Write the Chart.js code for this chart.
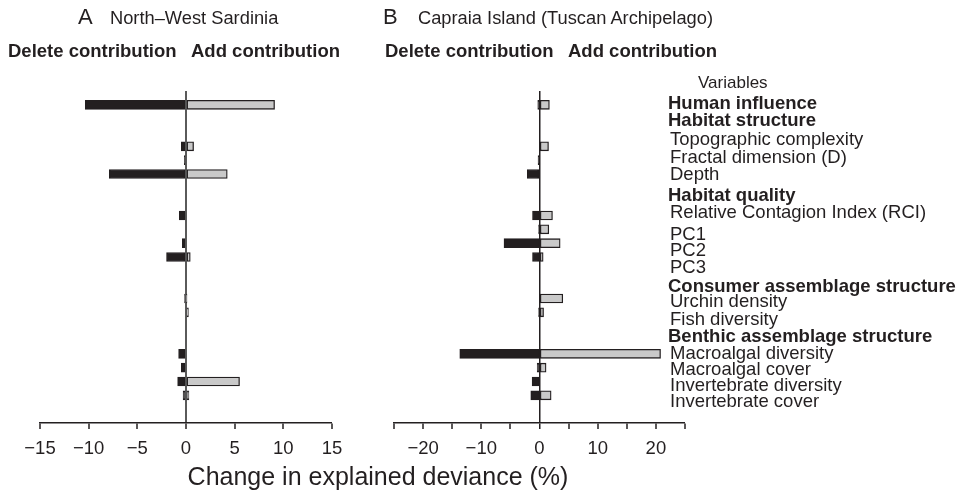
<!DOCTYPE html>
<html>
<head>
<meta charset="utf-8">
<script src="https://cdn.jsdelivr.net/npm/chart.js@4.4.0/dist/chart.umd.min.js"></script>
<style>
  body { margin: 0; width: 960px; height: 491px; background: #fff; position: relative; overflow: hidden;
         font-family: "Liberation Sans", Arial, Helvetica, sans-serif; color: #231f20; }
  .t { position: absolute; white-space: nowrap; line-height: 1; transform: translateY(-50%); }
  .b { font-weight: bold; }
  canvas { position: absolute; top: 0; }
</style>
</head>
<body>
<canvas id="chartA" width="360" height="491" style="left:0"></canvas>
<canvas id="chartB" width="340" height="491" style="left:360px"></canvas>
<div id="labels"></div>
<script>
// rows of the plot, top to bottom ("" = header row without a bar)
const rows = ["Human influence", "", "", "Topographic complexity", "Fractal dimension (D)", "Depth",
  "", "", "Relative Contagion Index (RCI)", "PC1", "PC2", "PC3", "", "",
  "Urchin density", "Fish diversity", "", "", "Macroalgal diversity", "Macroalgal cover",
  "Invertebrate diversity", "Invertebrate cover"];

// A  North-West Sardinia
const sardDelete = [-10.35, null, null, -0.48, -0.17, -7.88, null, null, -0.69, null, -0.38, -2.0,
  null, null, -0.15, null, null, null, -0.76, -0.48, -0.86, -0.3];
const sardAdd = [9.1, null, null, 0.78, null, 4.24, null, null, null, null, null, 0.44,
  null, null, 0.05, 0.25, null, null, null, null, 5.5, 0.3];

// B  Capraia Island
const capDelete = [-0.3, null, null, null, -0.25, -2.1, null, null, -1.2, -0.15, -6.1, -1.2,
  null, null, null, -0.15, null, null, -13.7, -0.4, -1.27, -1.5];
const capAdd = [1.7, null, null, 1.55, null, null, null, null, 2.23, 1.6, 3.55, 0.63,
  null, null, 4.0, 0.7, null, null, 20.8, 1.13, null, 2.0];

// variable list on the right
const varLabels = [
  ["Human influence", true], ["Habitat structure", true], ["Topographic complexity", false],
  ["Fractal dimension (D)", false], ["Depth", false], ["Habitat quality", true],
  ["Relative Contagion Index (RCI)", false], ["PC1", false], ["PC2", false], ["PC3", false],
  ["Consumer assemblage structure", true], ["Urchin density", false], ["Fish diversity", false],
  ["Benthic assemblage structure", true], ["Macroalgal diversity", false], ["Macroalgal cover", false],
  ["Invertebrate diversity", false], ["Invertebrate cover", false]
];
const labelY = [103, 120, 139, 157, 174, 195, 212, 234, 250, 267, 286, 301, 319, 336, 353, 369, 385, 401];

const ink = "#231f20";
const FONT = "'Liberation Sans', Arial, Helvetica, sans-serif";

function addText(txt, x, y, size, bold, extra) {
  const d = document.createElement("div");
  d.className = "t" + (bold ? " b" : "");
  d.textContent = txt;
  d.style.left = x + "px";
  d.style.top = y + "px";
  d.style.fontSize = size + "px";
  if (extra) Object.assign(d.style, extra);
  document.getElementById("labels").appendChild(d);
}

addText("A", 78, 17, 22, false);
addText("North\u2013West Sardinia", 110, 18, 18.3, false);
addText("B", 383, 17, 22, false);
addText("Capraia Island (Tuscan Archipelago)", 418, 18, 18.3, false);
addText("Delete contribution", 8, 51, 18.5, true);
addText("Add contribution", 191, 51, 18.5, true);
addText("Delete contribution", 385, 51, 18.5, true);
addText("Add contribution", 568, 51, 18.5, true);
addText("Variables", 698, 82, 17, false);
varLabels.forEach((v, i) => addText(v[0], v[1] ? 668 : 670, labelY[i], 18.5, v[1]));
addText("Change in explained deviance (%)", 378, 476, 25, false, { transform: "translate(-50%,-50%)" });

// one blank category above, two below, so the axis sits under the last row
const cats = [""].concat(rows, ["", ""]);
const pad = arr => [null].concat(arr, [null, null]);

function makeChart(id, del, add, min, max, step, labelEvery, left, right, zeroColor, zeroWidth) {
  new Chart(document.getElementById(id), {
    type: "bar",
    data: {
      labels: cats,
      datasets: [
        { label: "Delete contribution", data: pad(del), backgroundColor: ink, borderColor: ink,
          borderWidth: 1, borderSkipped: false, barThickness: 9 },
        { label: "Add contribution", data: pad(add), backgroundColor: "#c9c9c9", borderColor: ink,
          borderWidth: 1.3, borderSkipped: false, barThickness: 9 }
      ]
    },
    options: {
      indexAxis: "y",
      responsive: false,
      animation: false,
      layout: { padding: { left: left, right: right, top: 91, bottom: 0 } },
      plugins: { legend: { display: false }, tooltip: { enabled: false } },
      scales: {
        y: { type: "category", stacked: true, offset: false, display: false },
        x: {
          type: "linear", stacked: true, min: min, max: max,
          afterFit: s => { s.height = 491 - 423; },
          border: { display: true, color: ink, width: 1.5 },
          grid: {
            drawOnChartArea: true,
            color: c => (c.tick && c.tick.value === 0 ? zeroColor : "rgba(0,0,0,0)"),
            lineWidth: c => (c.tick && c.tick.value === 0 ? zeroWidth : 0),
            tickColor: ink, tickWidth: 1.5, tickLength: 6
          },
          ticks: {
            stepSize: step, autoSkip: false, maxRotation: 0, padding: 9, color: ink,
            font: { family: FONT, size: 18.5 },
            callback: v => (v % labelEvery === 0 ? String(v).replace("-", "\u2212") : "")
          }
        }
      }
    }
  });
}

makeChart("chartA", sardDelete, sardAdd, -15, 15, 5, 5, 40, 28, "#5a5a5a", 2);
makeChart("chartB", capDelete, capAdd, -25, 25, 5, 10, 34, 15, ink, 1.5);
</script>
</body>
</html>
